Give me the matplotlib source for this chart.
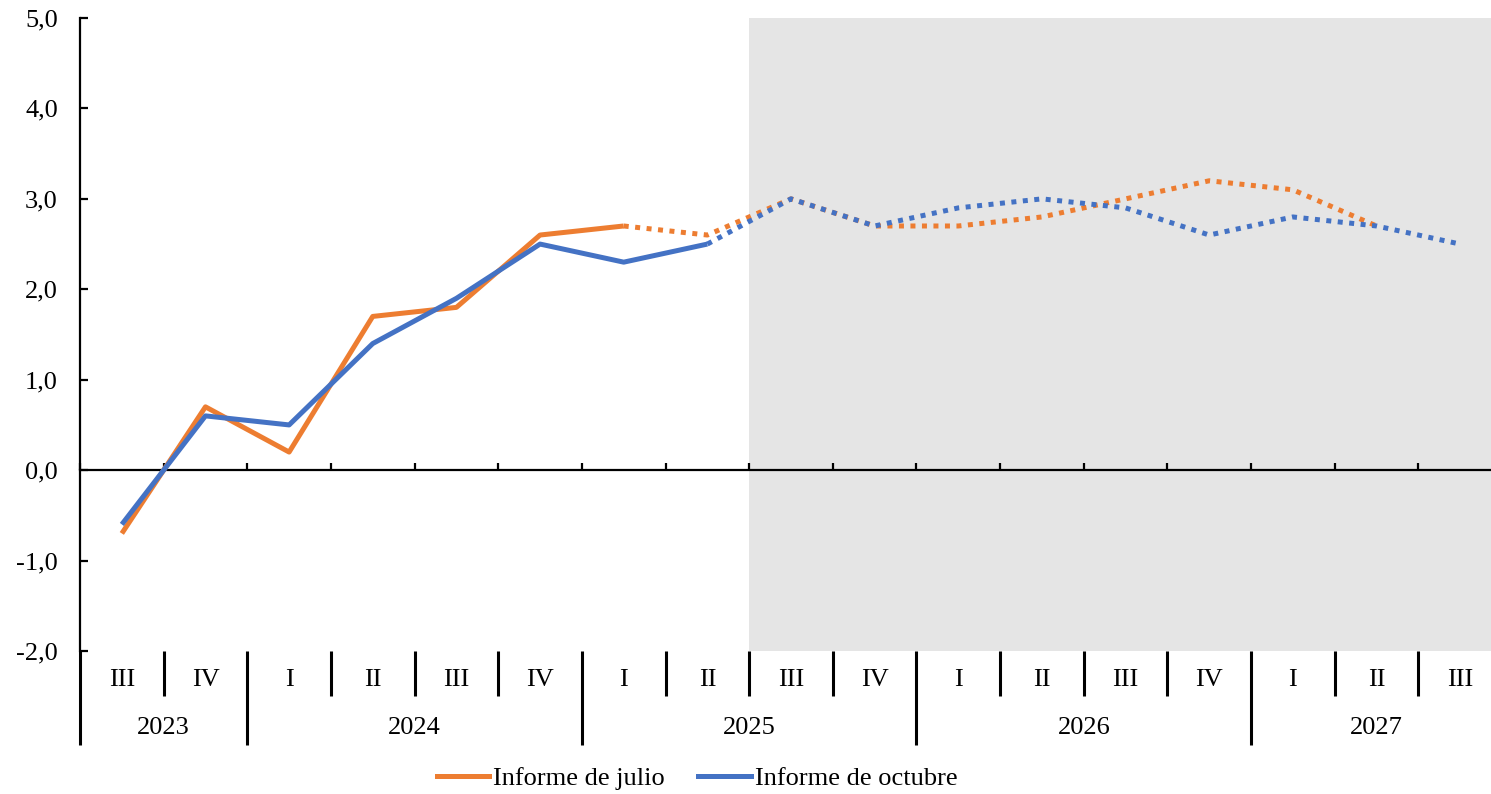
import matplotlib
matplotlib.use("Agg")
import matplotlib.pyplot as plt
import numpy as np

quarters = ["III", "IV", "I", "II", "III", "IV", "I", "II", "III", "IV",
            "I", "II", "III", "IV", "I", "II", "III"]
years = ["2023", "2024", "2025", "2026", "2027"]
year_spans = [(0, 1), (2, 5), (6, 9), (10, 13), (14, 16)]
julio = [-0.7, 0.7, 0.2, 1.7, 1.8, 2.6, 2.7, 2.6, 3.0, 2.7, 2.7, 2.8, 3.0, 3.2, 3.1, 2.7, np.nan]
octubre = [-0.6, 0.6, 0.5, 1.4, 1.9, 2.5, 2.3, 2.5, 3.0, 2.7, 2.9, 3.0, 2.9, 2.6, 2.8, 2.7, 2.5]
julio_last_obs = 6
octubre_last_obs = 7
forecast_start = 7.5
series_names = ["Informe de julio", "Informe de octubre"]

orange = "#ED7D31"
blue = "#4472C4"
plt.rcParams['font.family'] = ['Liberation Serif', 'DejaVu Serif']

fig = plt.figure(figsize=(14.91, 7.94), dpi=100)
ax = fig.add_axes([80/1491, 1-651/794, 1422/1491, 633/794])
x = np.arange(len(quarters))
julio = np.array(julio, dtype=float)
octubre = np.array(octubre, dtype=float)
ax.set_xlim(-0.5, len(quarters) - 0.5)
ax.set_ylim(-2, 5)

ax.axvspan(forecast_start, len(quarters) - 0.5, color="#e5e5e5", zorder=0, lw=0)

lw = 3.6
dots = (0, (1, 1.3))
ax.plot(x[:julio_last_obs+1], julio[:julio_last_obs+1], color=orange, lw=lw, solid_capstyle='butt', zorder=3)
ax.plot(x[julio_last_obs:], julio[julio_last_obs:], color=orange, lw=lw, linestyle=dots, dash_capstyle='butt', zorder=3)
ax.plot(x[:octubre_last_obs+1], octubre[:octubre_last_obs+1], color=blue, lw=lw, solid_capstyle='butt', zorder=4)
ax.plot(x[octubre_last_obs:], octubre[octubre_last_obs:], color=blue, lw=lw, linestyle=dots, dash_capstyle='butt', zorder=4)

# spines
for s in ['top', 'right']:
    ax.spines[s].set_visible(False)
ax.spines['bottom'].set_position(('data', 0))
ax.spines['bottom'].set_linewidth(1.6)
ax.spines['left'].set_linewidth(1.6)
ax.spines['left'].set_bounds(-2, 5)

yt = np.arange(-2, 6, 1)
ax.set_yticks(yt)
ax.set_yticklabels([f"{v:.1f}".replace(".", ",") for v in yt])
ax.tick_params(axis='y', direction='in', length=6, width=1.6, pad=16, labelsize=19)

bounds = np.arange(-0.5, len(quarters) - 0.5 + 0.01, 1.0)
ax.set_xticks(bounds)
ax.tick_params(axis='x', direction='in', length=5, width=1.6, labelbottom=False)

# category labels below axes
trans = ax.get_xaxis_transform()
h = 633.0
def ay(px):
    return -px / h
for i, q in enumerate(quarters):
    ax.text(i, ay(680 - 651), q, transform=trans, ha='center', va='center', fontsize=19, clip_on=False)
for yname, (a, b) in zip(years, year_spans):
    ax.text((a + b) / 2, ay(728 - 651), yname, transform=trans, ha='center', va='center', fontsize=19, clip_on=False)

year_bounds = set([a - 0.5 for a, b in year_spans])
for bnd in bounds:
    long = bnd in year_bounds
    ax.plot([bnd, bnd], [0, ay((745 if long else 696) - 651)], transform=trans, color='black',
            lw=2.2, clip_on=False, solid_capstyle='butt')

from matplotlib.lines import Line2D
handles = [Line2D([], [], color=orange, lw=lw), Line2D([], [], color=blue, lw=lw)]
fig.legend(handles, series_names, loc='center', bbox_to_anchor=(697/1491, 1 - 778/794), ncol=2,
           frameon=False, fontsize=19, handlelength=2.0, handletextpad=0.15, columnspacing=1.25)

fig.savefig("out.png", dpi=100)
